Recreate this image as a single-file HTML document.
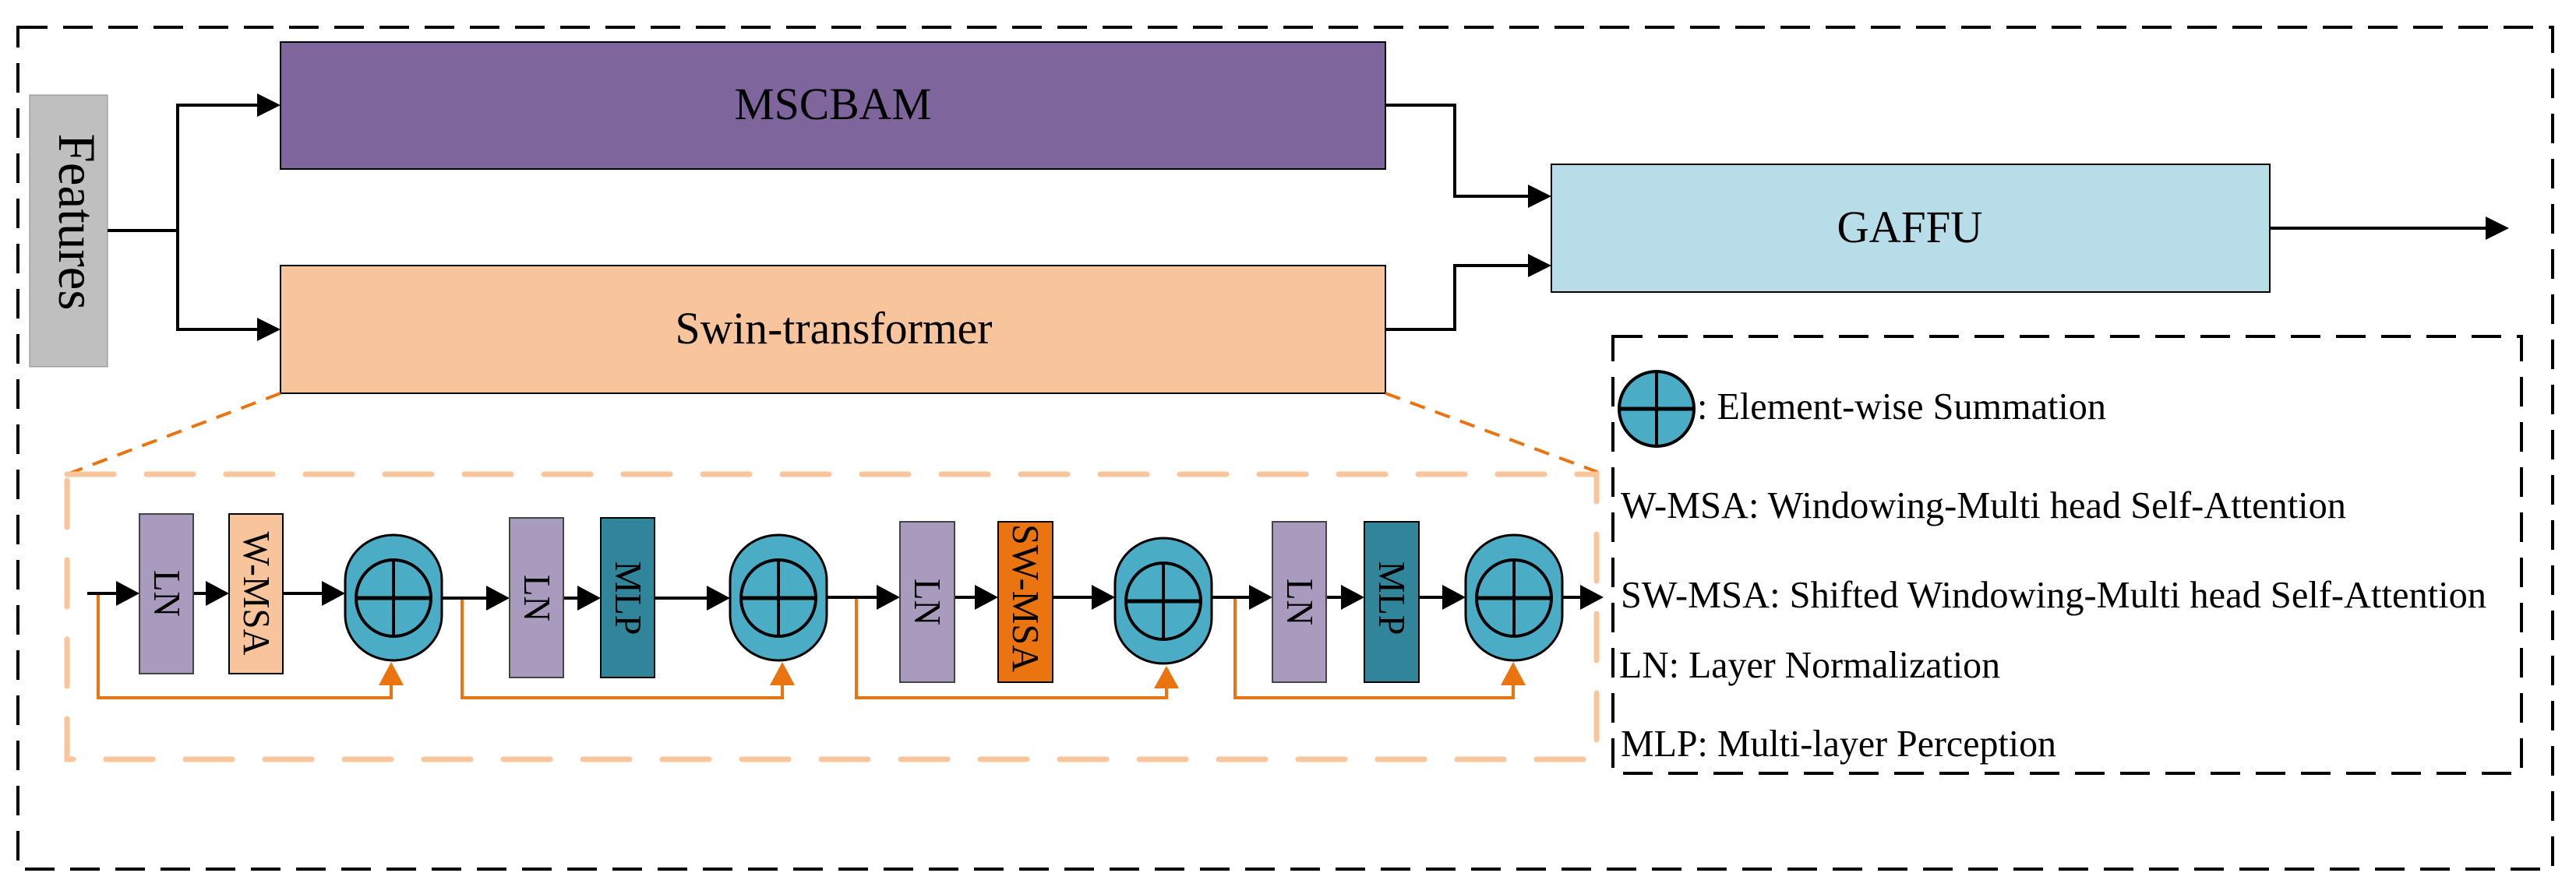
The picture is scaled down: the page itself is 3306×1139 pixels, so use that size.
<!DOCTYPE html>
<html><head><meta charset="utf-8"><style>html,body{margin:0;padding:0;background:#fff}svg{display:block}</style></head>
<body>
<svg width="3306" height="1139" viewBox="0 0 3306 1139" xmlns="http://www.w3.org/2000/svg" font-family="'Liberation Serif', serif">
<defs>
<g id="sum">
<rect x="0" y="0" width="124" height="161" rx="62" ry="58" fill="#4BACC6" stroke="#000" stroke-width="3"/>
<ellipse cx="62" cy="81" rx="48" ry="49" fill="#4BACC6" stroke="#000" stroke-width="4"/>
<line x1="14" y1="81" x2="110" y2="81" stroke="#000" stroke-width="5"/>
<line x1="62" y1="32" x2="62" y2="130" stroke="#000" stroke-width="4"/>
</g>
</defs>
<rect x="23" y="35" width="3253" height="1081" fill="none" stroke="#000" stroke-width="4" stroke-dasharray="38 20"/>
<rect x="38" y="122" width="100" height="349" fill="#BFBFBF" stroke="#888" stroke-width="1"/>
<text transform="translate(76,285) rotate(90)" font-size="68" text-anchor="middle" textLength="227" lengthAdjust="spacingAndGlyphs">Features</text>
<g stroke="#000" stroke-width="4" fill="none">
<polyline points="138,296 228,296 228,135 332,135"/>
<polyline points="228,296 228,423 332,423"/>
<polyline points="1778,135 1867,135 1867,252 1962,252"/>
<polyline points="1778,423 1867,423 1867,341 1962,341"/>
<line x1="2913" y1="293" x2="3192" y2="293"/>
</g>
<g fill="#000">
<polygon points="330,120 360,135 330,150"/>
<polygon points="330,408 360,423 330,438"/>
<polygon points="1961,237 1991,252 1961,267"/>
<polygon points="1961,326 1991,341 1961,356"/>
<polygon points="3190,278 3220,293 3190,308"/>
</g>
<rect x="360" y="54" width="1418" height="163" fill="#7E659C" stroke="#000" stroke-width="2"/>
<text x="1069" y="153" font-size="58" text-anchor="middle" textLength="253" lengthAdjust="spacingAndGlyphs">MSCBAM</text>
<rect x="360" y="341" width="1418" height="164" fill="#F8C49C" stroke="#000" stroke-width="2"/>
<text x="1070" y="441" font-size="58" text-anchor="middle" textLength="407" lengthAdjust="spacingAndGlyphs">Swin-transformer</text>
<rect x="1991" y="211" width="922" height="164" fill="#B7DEE8" stroke="#000" stroke-width="2"/>
<text x="2451" y="311" font-size="58" text-anchor="middle" textLength="187" lengthAdjust="spacingAndGlyphs">GAFFU</text>
<g stroke="#E97410" stroke-width="4" stroke-dasharray="20 14" fill="none">
<line x1="360" y1="505" x2="86" y2="609"/>
<line x1="1778" y1="505" x2="2050" y2="606"/>
</g>
<rect x="86" y="609" width="1963" height="366" fill="none" stroke="#FAC59A" stroke-width="7" stroke-linecap="round" stroke-dasharray="60 42"/>
<rect x="2070" y="432" width="1166" height="561" fill="none" stroke="#000" stroke-width="4" stroke-dasharray="38 20"/>
<ellipse cx="2126" cy="525" rx="48" ry="48" fill="#4BACC6" stroke="#000" stroke-width="4"/>
<line x1="2078" y1="525" x2="2174" y2="525" stroke="#000" stroke-width="5"/>
<line x1="2126" y1="477" x2="2126" y2="573" stroke="#000" stroke-width="4"/>
<g font-size="49">
<text x="2178" y="538" textLength="525" lengthAdjust="spacingAndGlyphs">: Element-wise Summation</text>
<text x="2080" y="665" textLength="931" lengthAdjust="spacingAndGlyphs">W-MSA: Windowing-Multi head Self-Attention</text>
<text x="2080" y="780" textLength="1111" lengthAdjust="spacingAndGlyphs">SW-MSA: Shifted Windowing-Multi head Self-Attention</text>
<text x="2078" y="870" textLength="489" lengthAdjust="spacingAndGlyphs">LN: Layer Normalization</text>
<text x="2080" y="971" textLength="559" lengthAdjust="spacingAndGlyphs">MLP: Multi-layer Perception</text>
</g>
<g stroke="#E97410" stroke-width="4" fill="none">
<polyline points="126,762 126,896 502,896 502,876"/>
<polyline points="593,768 593,896 1004,896 1004,876"/>
<polyline points="1099,767 1099,896 1497,896 1497,880"/>
<polyline points="1585,767 1585,896 1942,896 1942,876"/>
</g>
<g fill="#E97410">
<polygon points="486,880 502,850 518,880"/>
<polygon points="988,880 1004,850 1020,880"/>
<polygon points="1481,884 1497,855 1513,884"/>
<polygon points="1926,880 1942,850 1958,880"/>
</g>
<g stroke="#000" stroke-width="4" fill="none">
<line x1="112" y1="762" x2="152" y2="762"/>
<line x1="248" y1="762" x2="268" y2="762"/>
<line x1="363" y1="762" x2="416" y2="762"/>
<line x1="567" y1="768" x2="628" y2="768"/>
<line x1="723" y1="768" x2="745" y2="768"/>
<line x1="840" y1="768" x2="910" y2="768"/>
<line x1="1061" y1="767" x2="1128" y2="767"/>
<line x1="1225" y1="767" x2="1254" y2="767"/>
<line x1="1351" y1="767" x2="1404" y2="767"/>
<line x1="1554" y1="767" x2="1606" y2="767"/>
<line x1="1702" y1="767" x2="1724" y2="767"/>
<line x1="1821" y1="767" x2="1854" y2="767"/>
<line x1="2005" y1="767" x2="2030" y2="767"/>
</g>
<g fill="#000">
<polygon points="149,746 179,762 149,778"/>
<polygon points="264,746 294,762 264,778"/>
<polygon points="413,746 443,762 413,778"/>
<polygon points="624,752 654,768 624,784"/>
<polygon points="741,752 771,768 741,784"/>
<polygon points="907,752 937,768 907,784"/>
<polygon points="1125,751 1155,767 1125,783"/>
<polygon points="1251,751 1281,767 1251,783"/>
<polygon points="1401,751 1431,767 1401,783"/>
<polygon points="1603,751 1633,767 1603,783"/>
<polygon points="1721,751 1751,767 1721,783"/>
<polygon points="1851,751 1881,767 1851,783"/>
<polygon points="2028,751 2058,767 2028,783"/>
</g>
<rect x="179" y="660" width="69" height="205" fill="#A99BBD" stroke="#444" stroke-width="2"/>
<rect x="294" y="660" width="69" height="205" fill="#F8C49C" stroke="#000" stroke-width="2"/>
<rect x="654" y="665" width="69" height="205" fill="#A99BBD" stroke="#444" stroke-width="2"/>
<rect x="771" y="665" width="69" height="205" fill="#31859B" stroke="#000" stroke-width="2"/>
<rect x="1155" y="670" width="70" height="206" fill="#A99BBD" stroke="#444" stroke-width="2"/>
<rect x="1281" y="670" width="70" height="206" fill="#E97410" stroke="#000" stroke-width="2"/>
<rect x="1633" y="670" width="69" height="206" fill="#A99BBD" stroke="#444" stroke-width="2"/>
<rect x="1751" y="670" width="70" height="206" fill="#31859B" stroke="#000" stroke-width="2"/>
<g font-size="49" text-anchor="middle">
<text transform="translate(198,762) rotate(90)" textLength="60" lengthAdjust="spacingAndGlyphs">LN</text>
<text transform="translate(313,762) rotate(90)" textLength="159" lengthAdjust="spacingAndGlyphs">W-MSA</text>
<text transform="translate(673,768) rotate(90)" textLength="60" lengthAdjust="spacingAndGlyphs">LN</text>
<text transform="translate(790,768) rotate(90)" textLength="95" lengthAdjust="spacingAndGlyphs">MLP</text>
<text transform="translate(1174,773) rotate(90)" textLength="60" lengthAdjust="spacingAndGlyphs">LN</text>
<text transform="translate(1300,768) rotate(90)" textLength="190" lengthAdjust="spacingAndGlyphs">SW-MSA</text>
<text transform="translate(1652,773) rotate(90)" textLength="60" lengthAdjust="spacingAndGlyphs">LN</text>
<text transform="translate(1770,768) rotate(90)" textLength="95" lengthAdjust="spacingAndGlyphs">MLP</text>
</g>
<use href="#sum" x="443" y="687"/>
<use href="#sum" x="937" y="687"/>
<use href="#sum" x="1431" y="691"/>
<use href="#sum" x="1881" y="687"/>
</svg>
</body></html>
